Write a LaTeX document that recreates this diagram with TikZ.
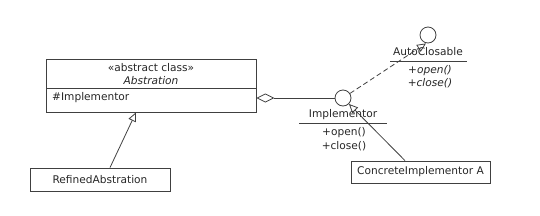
\documentclass[tikz,border=0pt]{standalone}
\usepackage{fontspec}
\setmainfont{DejaVu Sans}
\usetikzlibrary{arrows.meta}
\begin{document}
\begin{tikzpicture}[x=1pt,y=-1pt,
  every node/.style={font=\fontsize{10.6}{12}\selectfont, text=black!85, inner sep=0pt},
  box/.style={draw=black!75, line width=0.8pt, rectangle},
  iface/.style={draw=black!75, line width=0.8pt, circle, minimum size=16pt},
  conn/.style={draw=black!75, line width=0.8pt},
  gen/.style={conn, -{Triangle[open,length=9pt,width=8pt]}},
  real/.style={conn, dashed, dash pattern=on 5pt off 3pt, -{Triangle[open,length=9pt,width=8pt]}},
  agg/.style={conn, {Diamond[open,length=18pt,width=9pt]}-},
  lbl/.style={anchor=center}
]
\useasboundingbox (0,0) rectangle (540,215);
% Abstration
\node[box, minimum width=210pt, minimum height=53pt] (abs) at (151,85.5) {};
\draw[conn] (46,88) coordinate (absdl) -- (256,88) coordinate (absdr);
\node[lbl] (absst) at (151,68) {«abstract class»};
\node[lbl] (absname) at (151,81) {\itshape Abstration};
\node[anchor=west] (absattr) at (52,97.5) {\#Implementor};
% RefinedAbstration
\node[box, minimum width=140pt, minimum height=23pt] (ref) at (100,179.5) {RefinedAbstration};
% Implementor interface
\node[iface] (impl) at (343,98) {};
\node[lbl] (impln) at (343,115) {Implementor};
\draw[conn] (299,123) coordinate (implul) -- (387,123) coordinate (implur);
\node[lbl] (implo) at (344,133) {+open()};
\node[lbl] (implc) at (344,146) {+close()};
% AutoClosable interface
\node[iface] (auto) at (428,35) {};
\node[lbl] (auton) at (428,52) {AutoClosable};
\draw[conn] (390,61) coordinate (autoul) -- (467,61) coordinate (autour);
\node[lbl] (autoo) at (430,71) {\itshape +open()};
\node[lbl] (autoc) at (430,83) {\itshape +close()};
% ConcreteImplementor A
\node[box, minimum width=139pt, minimum height=22pt] (conc) at (420.5,172) {ConcreteImplementor A};
% connectors
\draw[gen] ([xshift=10pt]ref.north) -- ([xshift=-15pt]abs.south);
\draw[agg] (abs.east |- impl.west) -- (impl.west);
\draw[gen] ([xshift=-15.5pt]conc.north) -- (impl);
\draw[real] (impl) -- ([xshift=-2pt]auto.south);
\end{tikzpicture}
\end{document}
